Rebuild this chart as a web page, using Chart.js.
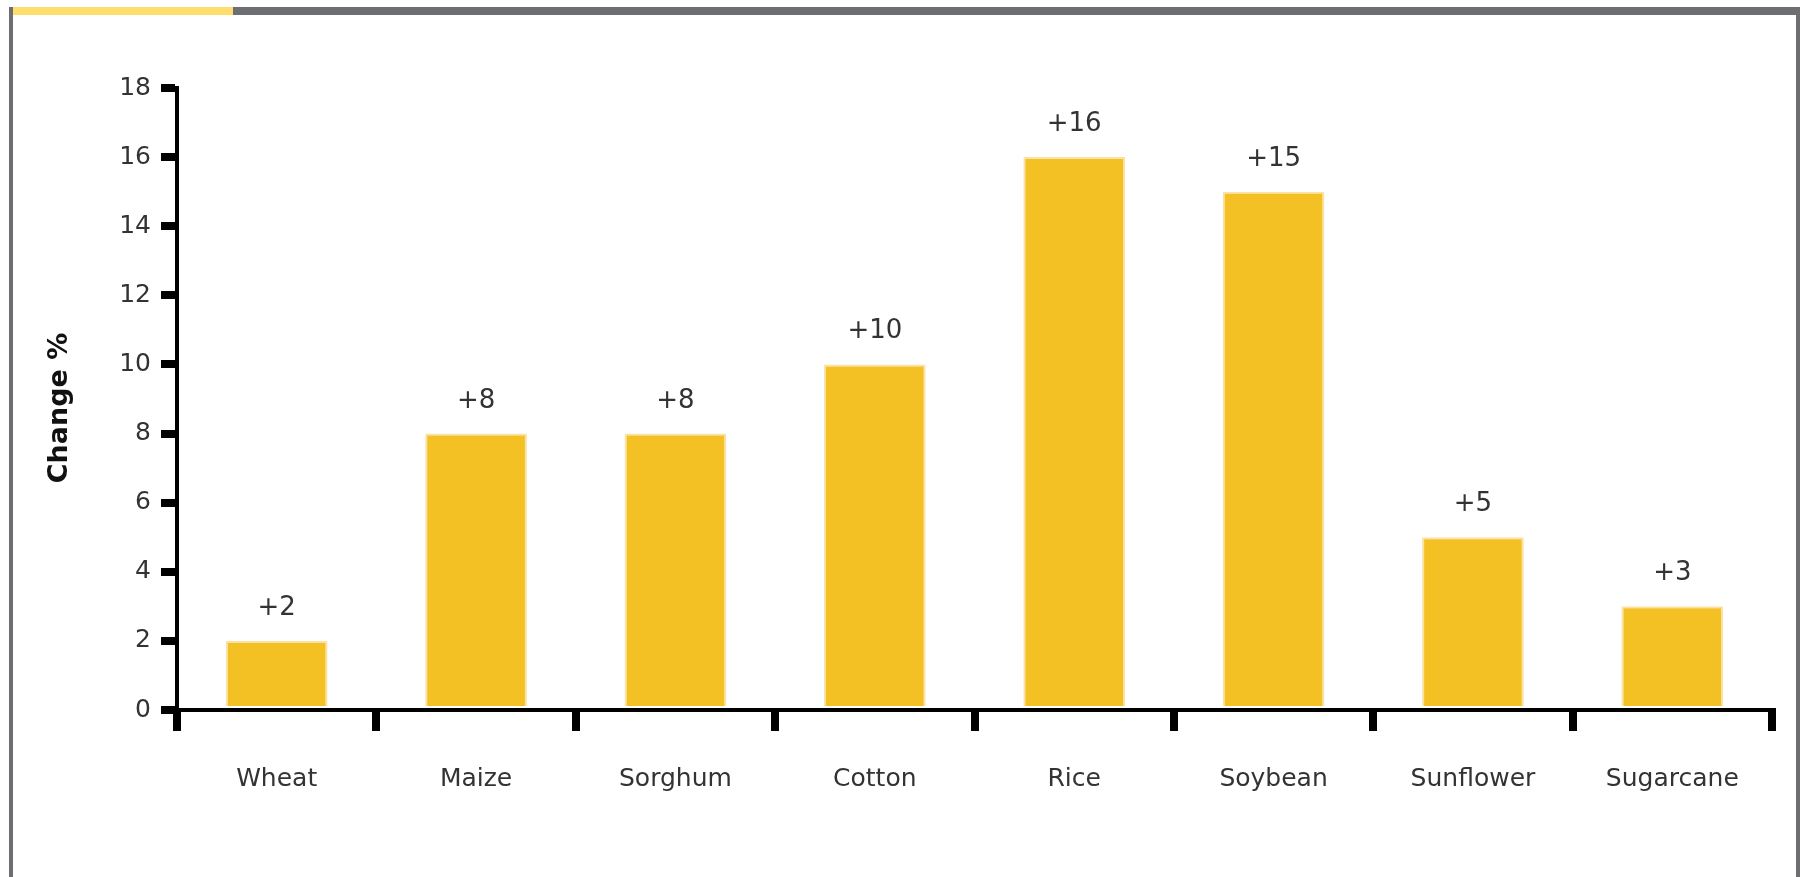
<!DOCTYPE html>
<html>
<head>
<meta charset="utf-8">
<script src="https://cdn.jsdelivr.net/npm/chart.js@4.4.0/dist/chart.umd.min.js"></script>
<style>
  html, body { margin: 0; padding: 0; background: #fff; width: 1802px; height: 877px; overflow: hidden; }
  #wrap { position: relative; width: 1802px; height: 877px; }
  canvas { position: absolute; left: 0; top: 0; }
  .frame { position: absolute; }
</style>
</head>
<body>
<div id="wrap">
  <canvas id="c" width="1802" height="877"></canvas>
  <div class="frame" style="left:9px;top:7px;width:4px;height:870px;background:#6D6E71;"></div>
  <div class="frame" style="left:13px;top:7px;width:220px;height:8px;background:#FEDE6C;"></div>
  <div class="frame" style="left:233px;top:7px;width:1567px;height:8px;background:#6D6E71;"></div>
  <div class="frame" style="left:1796px;top:7px;width:4px;height:870px;background:#6D6E71;"></div>
</div>
<script>
const categories = ["Wheat", "Maize", "Sorghum", "Cotton", "Rice", "Soybean", "Sunflower", "Sugarcane"];
const changeValues = [2, 8, 8, 10, 16, 15, 5, 3];
const valueLabels = ["+2", "+8", "+8", "+10", "+16", "+15", "+5", "+3"];
const yTicks = [0, 2, 4, 6, 8, 10, 12, 14, 16, 18];
const yAxisTitle = "Change %";

const barLabelPlugin = {
  id: 'barLabels',
  afterDatasetsDraw(chart) {
    const ctx = chart.ctx;
    const meta = chart.getDatasetMeta(0);
    ctx.save();
    ctx.font = '26px "DejaVu Sans"';
    ctx.fillStyle = '#333333';
    ctx.textAlign = 'center';
    ctx.textBaseline = 'alphabetic';
    meta.data.forEach((bar, i) => {
      ctx.fillText(valueLabels[i], bar.x, bar.y - 26);
    });
    ctx.restore();
  }
};

const axisTitlePlugin = {
  id: 'axisTitle',
  afterDraw(chart) {
    const ctx = chart.ctx;
    const area = chart.chartArea;
    const yScale = chart.scales.y;
    ctx.save();
    ctx.translate(yScale.left + 60, (area.top + area.bottom) / 2 + 9);
    ctx.rotate(-Math.PI / 2);
    ctx.font = 'bold 27px "DejaVu Sans"';
    ctx.fillStyle = '#111111';
    ctx.textAlign = 'center';
    ctx.textBaseline = 'middle';
    ctx.fillText(yAxisTitle, 0, 0);
    ctx.restore();
  }
};

new Chart(document.getElementById('c'), {
  type: 'bar',
  data: {
    labels: categories,
    datasets: [{
      data: changeValues,
      backgroundColor: '#F4C124',
      borderColor: '#FBE2A4',
      borderWidth: 2,
      categoryPercentage: 1,
      barPercentage: 0.51
    }]
  },
  options: {
    responsive: false,
    animation: false,
    devicePixelRatio: 1,
    layout: { padding: { left: 0, right: 30, top: 88, bottom: 0 } },
    plugins: {
      legend: { display: false },
      title: { display: false },
      tooltip: { enabled: false }
    },
    scales: {
      x: {
        offset: true,
        grid: {
          offset: true,
          drawOnChartArea: false,
          drawTicks: true,
          tickLength: 21,
          tickWidth: 8,
          tickColor: '#000',
          color: '#000',
          lineWidth: 8
        },
        border: { display: true, color: '#000', width: 4 },
        ticks: {
          color: '#333333',
          font: { family: '"DejaVu Sans"', size: 25 },
          padding: 33,
          maxRotation: 0,
          autoSkip: false
        },
        afterFit(scale) { scale.height = 167; }
      },
      y: {
        min: 0,
        max: 18,
        afterBuildTicks(scale) { scale.ticks = yTicks.map(v => ({ value: v })); },
        grid: {
          drawOnChartArea: false,
          drawTicks: true,
          tickLength: 16,
          tickWidth: 8,
          tickColor: '#000',
          color: '#000',
          lineWidth: 8
        },
        border: { display: true, color: '#000', width: 4 },
        ticks: {
          color: '#333333',
          font: { family: '"DejaVu Sans"', size: 25 },
          padding: 10
        },
        title: { display: false },
        afterFit(scale) { scale.width = 177; }
      }
    }
  },
  plugins: [barLabelPlugin, axisTitlePlugin]
});
</script>
</body>
</html>
